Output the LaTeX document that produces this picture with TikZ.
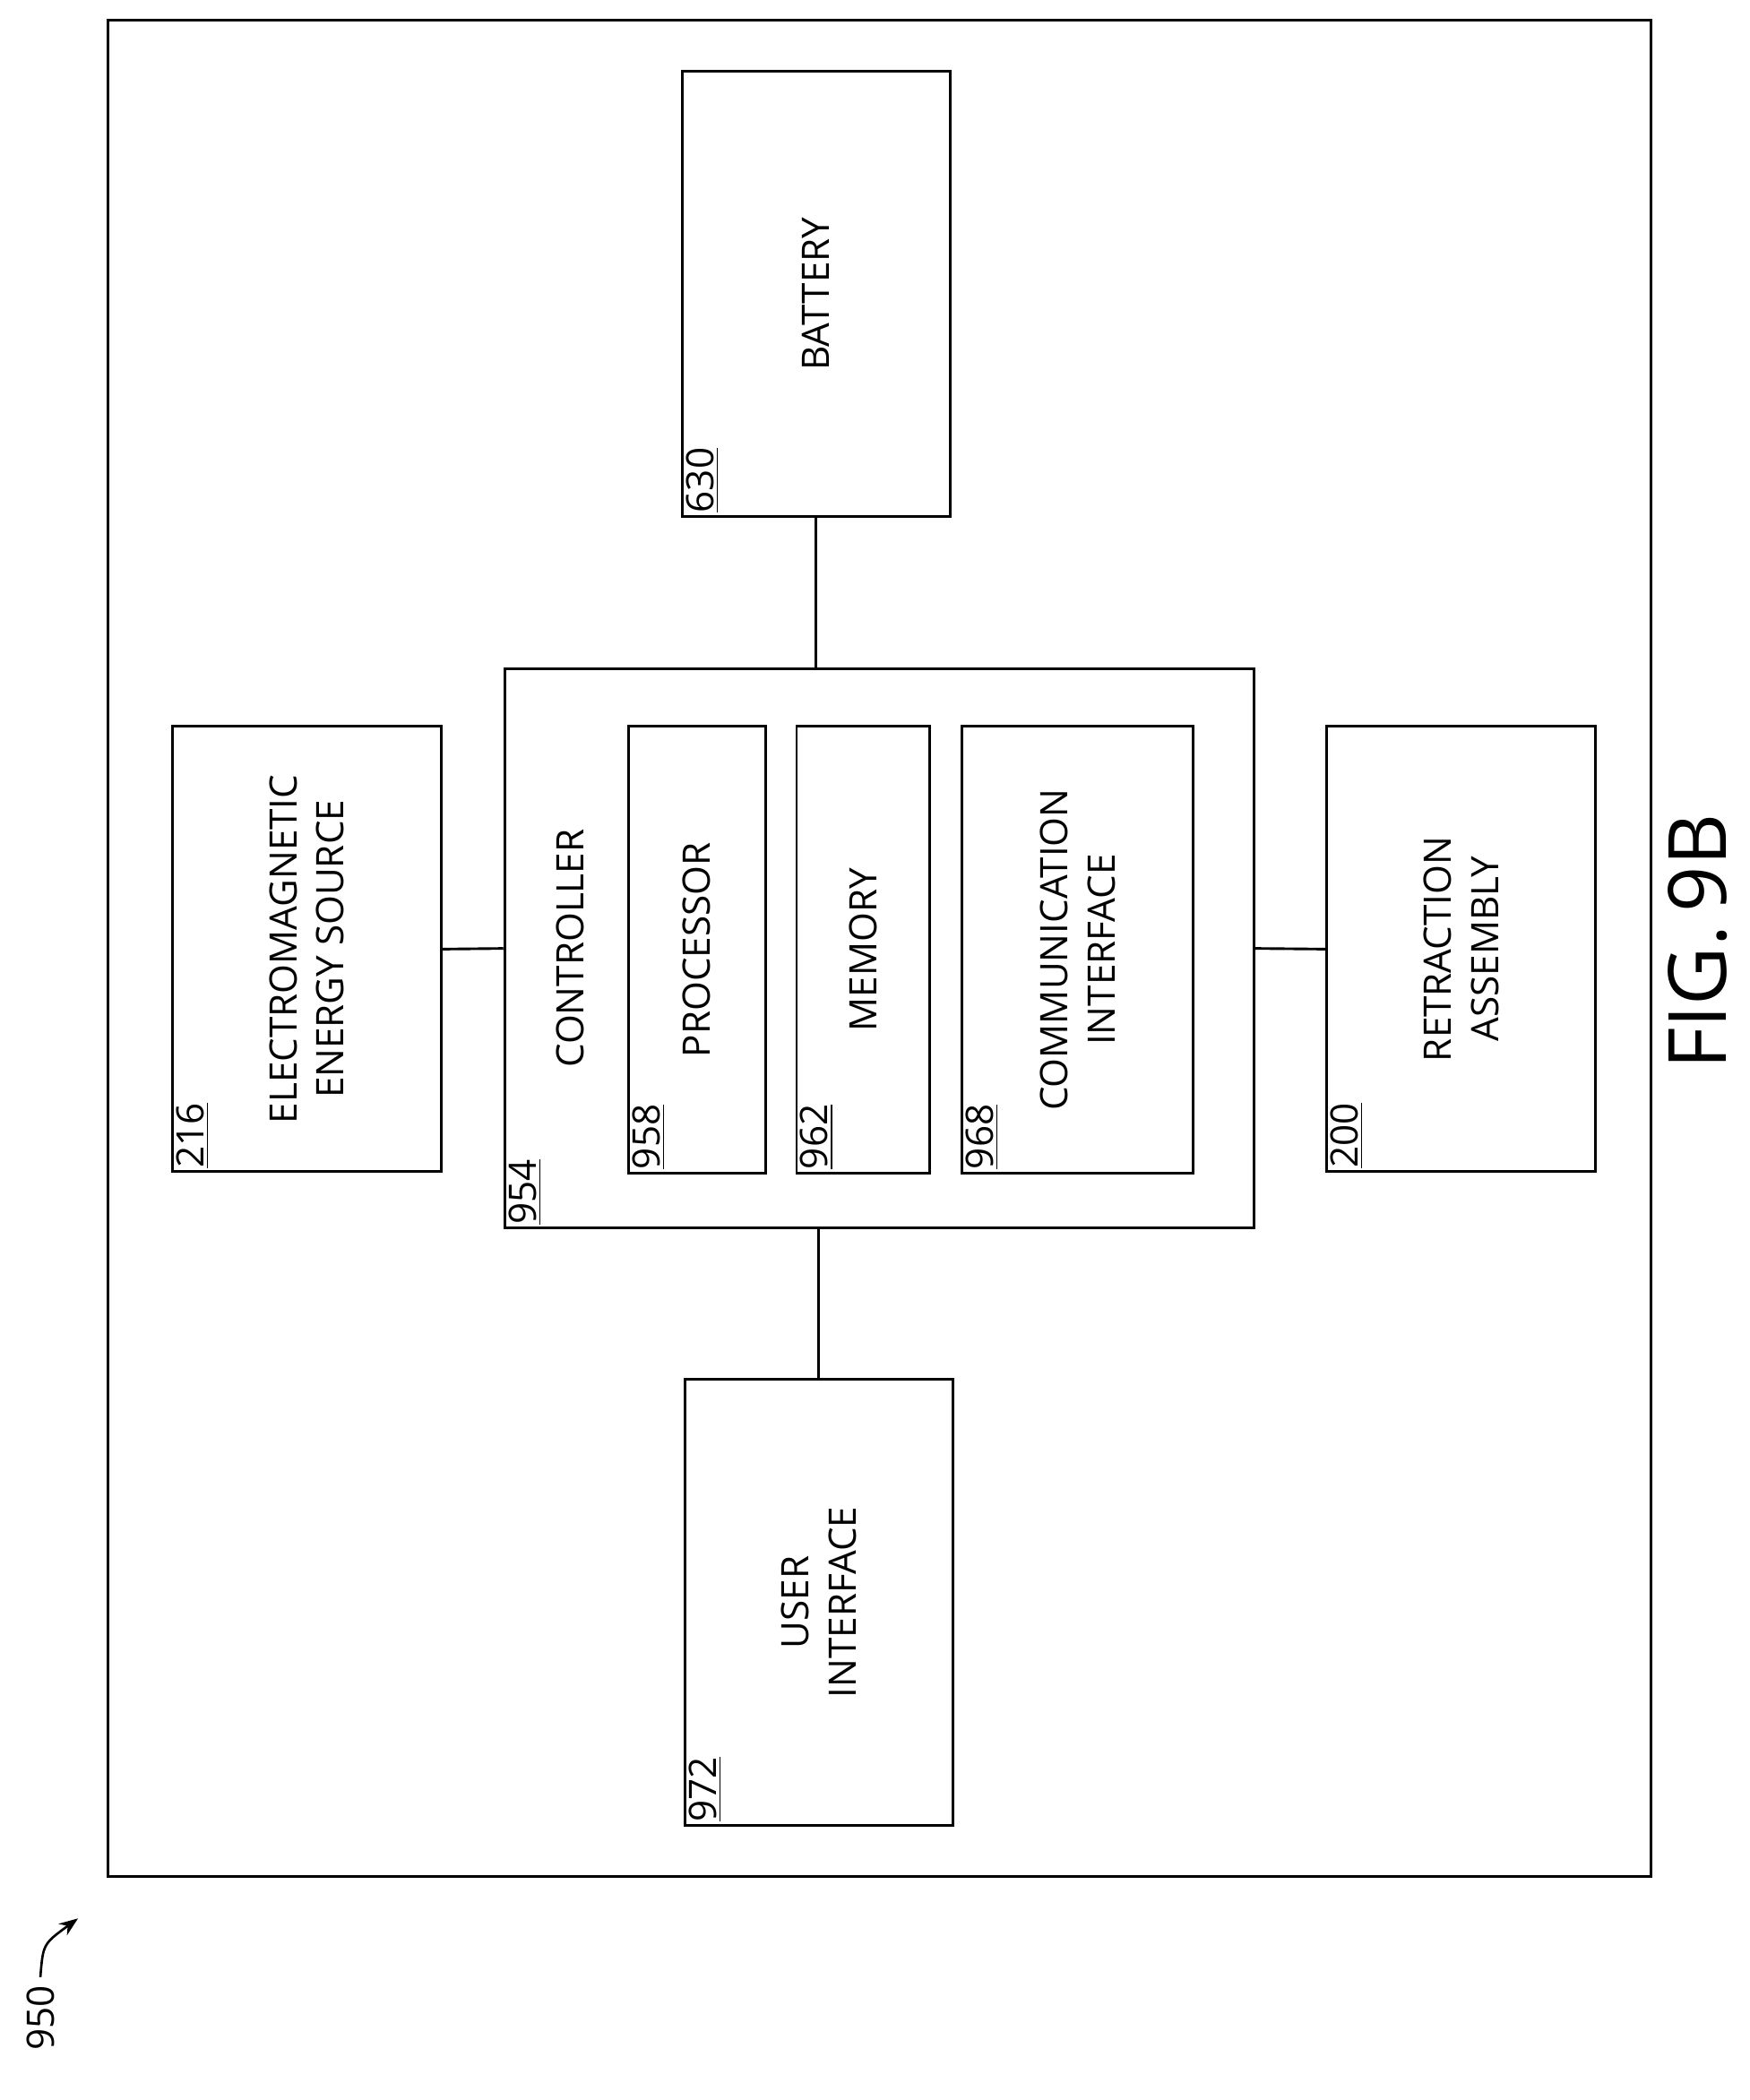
\documentclass[tikz,border=0pt]{standalone}
\usepackage{fontspec}
\setmainfont{Open Sans}
\usetikzlibrary{arrows.meta}
\tikzset{
    blk/.style={draw, line width=1.1pt, inner sep=0pt},
    txt/.style={rotate=90, align=center, font=\fontsize{16}{20}\selectfont},
    ref/.style={rotate=90, anchor=north west, inner sep=2pt, font=\fontsize{16}{20}\selectfont}
}
\begin{document}
\begin{tikzpicture}[x=0.02cm, y=-0.02cm]
    \useasboundingbox (0,0) rectangle (1300,1561);
    \node[blk, minimum width=22.94cm, minimum height=27.6cm] (outer) at (653.5,705) {};
    \node[blk, minimum width=3.98cm, minimum height=6.62cm] (bat) at (606.5,218.5) {};
    \node[blk, minimum width=11.14cm, minimum height=8.32cm] (ctrl) at (653.5,705) {};
    \node[blk, minimum width=2.04cm, minimum height=6.64cm] (proc) at (518,706) {};
    \node[blk, minimum width=1.98cm, minimum height=6.64cm] (mem) at (641.5,706) {};
    \node[blk, minimum width=3.44cm, minimum height=6.64cm] (comm) at (801,706) {};
    \node[blk, minimum width=4cm, minimum height=6.62cm] (em) at (228,705.5) {};
    \node[blk, minimum width=4cm, minimum height=6.62cm] (ret) at (1086,705.5) {};
    \node[blk, minimum width=3.98cm, minimum height=6.64cm] (ui) at (608.5,1191) {};
    % texts
    \node[txt] (batT) at (bat.center) {BATTERY};
    \node[txt] (ctrlT) at ([xshift=1cm]ctrl.west) {CONTROLLER};
    \node[txt] (procT) at (proc.center) {PROCESSOR};
    \node[txt] (memT) at (mem.center) {MEMORY};
    \node[txt] (commT) at (comm.center) {COMMUNICATION\\INTERFACE};
    \node[txt] (emT) at (em.center) {ELECTROMAGNETIC\\ENERGY SOURCE};
    \node[txt] (retT) at (ret.center) {RETRACTION\\ASSEMBLY};
    \node[txt] (uiT) at (ui.center) {USER\\INTERFACE};
    % reference numerals
    \node[ref] (batR) at (bat.south west) {\underline{630}};
    \node[ref] (ctrlR) at (ctrl.south west) {\underline{954}};
    \node[ref] (procR) at (proc.south west) {\underline{958}};
    \node[ref] (memR) at (mem.south west) {\underline{962}};
    \node[ref] (commR) at (comm.south west) {\underline{968}};
    \node[ref] (emR) at (em.south west) {\underline{216}};
    \node[ref] (retR) at (ret.south west) {\underline{200}};
    \node[ref] (uiR) at (ui.south west) {\underline{972}};
    % connectors
    \draw[line width=1.1pt] (em.east) -- (ctrl.west);
    \draw[line width=1.1pt] (ctrl.east) -- (ret.west);
    \draw[line width=1.1pt] (bat.south) -- (bat.south |- ctrl.north);
    \draw[line width=1.1pt] (ui.north) -- (ui.north |- ctrl.south);
    % figure label
    \node[rotate=90, font=\fontsize{34}{38}\selectfont] (fig) at (1262,700) {FIG.\,9B};
    \node[rotate=90, font=\fontsize{16}{20}\selectfont] (num) at (30,1500) {950};
    \coordinate (arrEnd) at (58,1426);
    \draw[line width=1pt, -{Stealth[length=8pt]}] (num.east) .. controls (32,1445) .. (arrEnd);
\end{tikzpicture}
\end{document}
